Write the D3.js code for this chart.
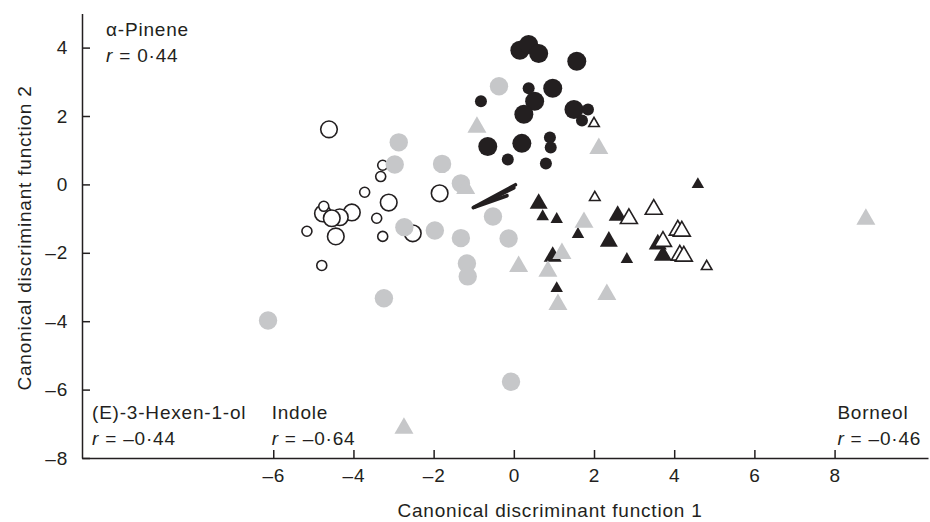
<!DOCTYPE html>
<html>
<head>
<meta charset="utf-8">
<script src="https://cdn.jsdelivr.net/npm/d3@7"></script>
<style>
  body { margin: 0; background: #fff; }
  svg { display: block; }
  text { font-family: "Liberation Sans", Arial, Helvetica, sans-serif; fill: #231f20; letter-spacing: 0.8px; }
</style>
</head>
<body>
<svg id="chart" width="930" height="522"></svg>
<script>
// tick values
let xTicks = [-6, -4, -2, 0, 2, 4, 6, 8]
let yTicks = [-8, -6, -4, -2, 0, 2, 4]

// open circles
let openCircleLarge = [[-4.61, 1.61], [-1.85, -0.26], [-3.12, -0.53], [-4.04, -0.82], [-4.76, -0.85],
  [-4.34, -0.96], [-4.54, -0.99], [-4.44, -1.52], [-2.52, -1.43]]
let openCircleSmall = [[-4.74, -0.64], [-3.27, 0.56], [-3.32, 0.23], [-3.72, -0.23], [-3.42, -0.99],
  [-3.27, -1.52], [-5.16, -1.37], [-4.79, -2.37]]

// grey circles
let grayCircles = [[-2.87, 1.23], [-2.97, 0.58], [-1.79, 0.60], [-1.32, 0.03], [-2.73, -1.25],
  [-1.97, -1.35], [-1.32, -1.57], [-0.52, -0.94], [-0.13, -1.58], [-1.17, -2.31], [-1.15, -2.69],
  [-0.37, 2.87], [-6.13, -3.98], [-3.24, -3.33], [-0.07, -5.77]]

// black circles
let blackCircleLarge = [[0.15, 3.92], [0.37, 4.09], [0.62, 3.83], [1.57, 3.60], [0.97, 2.81],
  [0.52, 2.43], [0.25, 2.05], [1.50, 2.19], [-0.65, 1.11], [0.20, 1.20]]
let blackCircleSmall = [[0.37, 2.81], [-0.82, 2.43], [0.90, 1.37], [0.92, 1.08], [-0.15, 0.73],
  [0.80, 0.61], [1.85, 2.19], [1.70, 1.87]]

// triangles
let blackTriLarge = [[0.62, -0.56], [2.59, -0.91], [2.37, -1.67], [0.97, -2.11], [3.59, -1.75], [3.72, -2.08]]
let blackTriSmall = [[0.72, -0.94], [1.07, -1.02], [1.60, -1.46], [2.82, -2.19], [1.07, -3.04], [4.59, 0.0]]
let grayTriangles = [[-0.92, 1.67], [2.12, 1.05], [-1.2, -0.12], [1.75, -1.11], [1.20, -2.02],
  [0.12, -2.40], [0.85, -2.54], [2.32, -3.22], [1.10, -3.51], [8.78, -1.02], [-2.74, -7.13]]
let openTriLarge = [[2.87, -1.0], [3.49, -0.73], [4.09, -1.34], [4.19, -1.37], [3.72, -1.67],
  [4.14, -2.07], [4.24, -2.10]]
let openTriSmall = [[2.02, -0.38], [2.0, 1.78], [4.81, -2.40]]

// vector lines [x1, y1, x2, y2]
let vectors = [[0.04, -0.01, -1.01, -0.68], [-0.17, -0.33, -0.97, -0.66], [0.0, -0.1, -0.6, -0.45]]

// compound labels [name, r, x, y]
let labels = [
  ['α-Pinene', '0·44', -10.17, 4.35],
  ['(E)-3-Hexen-1-ol', '–0·44', -10.52, -6.85],
  ['Indole', '–0·64', -6.04, -6.85],
  ['Borneol', '–0·46', 8.07, -6.85]
]

let ink = '#231f20'
let grey = '#c6c7c9'

let svg = d3.select('#chart')

let x = d3.scaleLinear().domain([-10.77, 10.33]).range([82, 928])
let y = d3.scaleLinear().domain([-8, 5]).range([458, 13.4])

let fmt = (d) => d < 0 ? '–' + Math.abs(d) : '' + d

let xAxis = svg.append('g')
  .attr('transform', 'translate(0,' + y(-8) + ')')
  .call(d3.axisBottom(x).tickValues(xTicks).tickSizeInner(-8).tickSizeOuter(0).tickPadding(11).tickFormat(fmt))
let yAxis = svg.append('g')
  .attr('transform', 'translate(' + x(-10.77) + ',0)')
  .call(d3.axisLeft(y).tickValues(yTicks).tickSizeInner(-8).tickSizeOuter(0).tickPadding(14).tickFormat(fmt))

svg.selectAll('.domain, .tick line').attr('stroke', ink).attr('stroke-width', 1.5)
svg.selectAll('.tick text').attr('font-size', 19).attr('font-family', null).attr('fill', ink)

svg.append('text')
  .attr('x', 550).attr('y', 517)
  .attr('text-anchor', 'middle').attr('font-size', 19)
  .text('Canonical discriminant function 1')
svg.append('text')
  .attr('transform', 'translate(31,238) rotate(-90)')
  .attr('text-anchor', 'middle').attr('font-size', 19)
  .text('Canonical discriminant function 2')

// markers
let addCircles = (data, r, fill, stroke) => {
  svg.append('g').selectAll('circle')
    .data(data).enter().append('circle')
    .attr('cx', (d) => x(d[0]))
    .attr('cy', (d) => y(d[1]))
    .attr('r', r)
    .attr('fill', fill)
    .attr('stroke', stroke)
    .attr('stroke-width', stroke === 'none' ? 0 : 1.6)
}
let addTriangles = (data, side, fill, stroke) => {
  let sym = d3.symbol().type(d3.symbolTriangle).size(Math.sqrt(3) / 4 * side * side)
  svg.append('g').selectAll('path')
    .data(data).enter().append('path')
    .attr('d', sym)
    .attr('transform', (d) => 'translate(' + x(d[0]) + ',' + y(d[1]) + ')')
    .attr('fill', fill)
    .attr('stroke', stroke)
    .attr('stroke-width', stroke === 'none' ? 0 : 1.6)
    .attr('stroke-linejoin', 'miter')
}

addCircles(openCircleLarge, 8.3, '#fff', ink)
addCircles(openCircleSmall, 5, '#fff', ink)
addCircles(grayCircles, 9.2, grey, 'none')
addCircles(blackCircleLarge, 9.5, ink, 'none')
addCircles(blackCircleSmall, 6, ink, 'none')
addTriangles(blackTriLarge, 18, ink, 'none')
addTriangles(blackTriSmall, 12.5, ink, 'none')
addTriangles(grayTriangles, 19, grey, 'none')
addTriangles(openTriLarge, 17, '#fff', ink)
addTriangles(openTriSmall, 10.5, '#fff', ink)

svg.append('g').selectAll('line')
  .data(vectors).enter().append('line')
  .attr('x1', (d) => x(d[0])).attr('y1', (d) => y(d[1]))
  .attr('x2', (d) => x(d[2])).attr('y2', (d) => y(d[3]))
  .attr('stroke', ink).attr('stroke-width', 3.6).attr('stroke-linecap', 'round')

// compound labels
labels.forEach((l) => {
  svg.append('text')
    .attr('x', x(l[2])).attr('y', y(l[3]))
    .attr('font-size', 19)
    .text(l[0])
  let t = svg.append('text')
    .attr('x', x(l[2])).attr('y', y(l[3]) + 26)
    .attr('font-size', 19)
  t.append('tspan').attr('font-style', 'italic').text('r')
  t.append('tspan').text(' = ' + l[1])
})
</script>
</body>
</html>
